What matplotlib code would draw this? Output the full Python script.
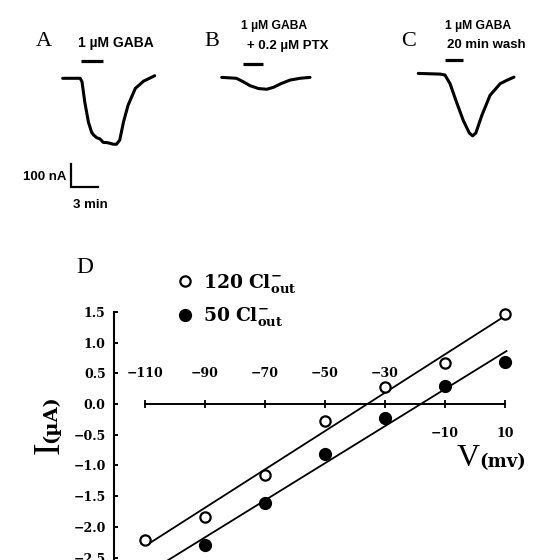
"""
GABA-evoked currents (A-C) and I-V relation at two external Cl- levels (D).
"""
import matplotlib
matplotlib.use("Agg")
import matplotlib.pyplot as plt
import numpy as np

# ---- data -------------------------------------------------------------
# current traces: time (min) from trace start, current (nA) from baseline
trace_a_t = [0.0, 1.9, 2.1, 2.4, 2.8, 3.15, 3.35, 3.7, 4.05, 4.4, 4.8, 5.15,
             5.5, 5.85, 6.2, 6.6, 7.1, 7.9, 8.8, 10.0]
trace_a_i = [0, 0, -15, -102, -189, -232, -243, -255, -260, -275, -276, -279,
             -283, -283, -265, -189, -116, -43, -12, 11]
trace_b_t = [0.0, 1.6, 2.35, 3.1, 4.0, 4.9, 5.6, 6.5, 7.4, 8.5, 9.6]
trace_b_i = [3, -1, -16, -33, -45, -48, -40, -23, -9, -1, 3]
trace_c_t = [0.0, 2.4, 2.9, 3.45, 4.15, 4.9, 5.55, 5.9, 6.25, 6.9, 7.8, 8.9,
             9.65, 10.4]
trace_c_i = [3, 0, -4, -41, -120, -200, -253, -265, -253, -178, -91, -41,
             -26, -13]
gaba_on = [1.95, 2.3, 2.9]     # min, drug application start per trace
gaba_off = [4.4, 4.5, 4.85]    # min, drug application end per trace
scale_min = 3
scale_na = 100

# I-V relation
v_120 = [-110, -90, -70, -50, -30, -10, 10]
i_120 = [-2.22, -1.84, -1.15, -0.28, 0.28, 0.67, 1.46]
v_50 = [-90, -70, -50, -30, -10, 10]
i_50 = [-2.29, -1.61, -0.81, -0.23, 0.29, 0.68]
v_ticks_above = [-110, -90, -70, -50, -30]
v_ticks_below = [-10, 10]
i_ticks = [1.5, 1.0, 0.5, 0.0, -0.5, -1.0, -1.5, -2.0, -2.5]

# ---- layout helpers (pixel positions of a 550x560 canvas) -------------
W, H = 550, 560
PX_PER_MIN = 9.2
PX_PER_NA = 0.233


def fx(x):
    return x / W


def fy(y):
    return 1 - y / H


SERIF = "Liberation Serif"
BSERIF = "DejaVu Serif"
SANS = "Liberation Sans"
plt.rcParams["mathtext.fontset"] = "dejavuserif"

fig = plt.figure(figsize=(W / 100, H / 100), dpi=100)

# ---- traces A-C -------------------------------------------------------
ax_tr = fig.add_axes([0, fy(230), 1, 230 / H])
base_y = 78.3
ax_tr.set_xlim(0, W / PX_PER_MIN)
ax_tr.set_ylim(-(230 - base_y) / PX_PER_NA, base_y / PX_PER_NA)
ax_tr.axis("off")

starts = [62.7 / PX_PER_MIN, 221.7 / PX_PER_MIN, 418.3 / PX_PER_MIN]
offsets = [0, 1, 18]
bar_levels = [74, 60, 60]
traces = [(trace_a_t, trace_a_i), (trace_b_t, trace_b_i), (trace_c_t, trace_c_i)]
for k, (t, i) in enumerate(traces):
    t0, off = starts[k], offsets[k]
    ax_tr.plot(np.array(t) + t0, np.array(i) + off, color="black", lw=2.2,
               solid_joinstyle="round", solid_capstyle="round")
    ax_tr.plot([t0 + gaba_on[k], t0 + gaba_off[k]],
               [off + bar_levels[k]] * 2, color="black", lw=2.3,
               solid_capstyle="butt")

# scale bar
sx, sy = 70.7 / PX_PER_MIN, -(187 - base_y) / PX_PER_NA
ax_tr.plot([sx, sx, sx + scale_min], [sy + scale_na, sy, sy], color="black",
           lw=1.6, solid_joinstyle="miter")
fig.text(fx(66.7), fy(176.7), f"{scale_na} nA", ha="right", va="center",
         family=SANS, weight="bold", size=9.5)
fig.text(fx(72.7), fy(205), f"{scale_min} min", ha="left", va="center",
         family=SANS, weight="bold", size=9.5)

# panel letters and conditions
for lab, x in zip("ABC", [44, 212, 409]):
    fig.text(fx(x), fy(42), lab, ha="center", va="center", family=SERIF,
             size=16)
fig.text(fx(78), fy(43.5), "1 \u00b5M GABA", ha="left", va="center",
         family=SANS, weight="bold", size=10)
fig.text(fx(241.4), fy(25.5), "1 \u00b5M GABA", ha="left", va="center",
         family=SANS, weight="bold", size=8.7)
fig.text(fx(247.4), fy(45.5), "+ 0.2 \u00b5M PTX", ha="left", va="center",
         family=SANS, weight="bold", size=9.5)
fig.text(fx(445), fy(25.5), "1 \u00b5M GABA", ha="left", va="center",
         family=SANS, weight="bold", size=8.7)
fig.text(fx(447.4), fy(45), "20 min wash", ha="left", va="center",
         family=SANS, weight="bold", size=9.5)

# ---- panel D: I-V relation --------------------------------------------
ax = fig.add_axes([fx(114), 0, fx(550) - fx(114), 270 / H])
ax.set_xlim(-120.33, 25)
ax.set_ylim(-2.54, 1.857)
ax.patch.set_alpha(0)

for v, i, filled, lab in [(v_120, i_120, False, r"$\mathbf{120\ Cl^{-}_{out}}$"),
                          (v_50, i_50, True, r"$\mathbf{50\ Cl^{-}_{out}}$")]:
    slope, icpt = np.polyfit(v, i, 1)
    vv = np.array([-108 if not filled else -110, 10.5])
    ax.plot(vv, slope * vv + icpt, color="black", lw=1.3, zorder=2)
    ax.plot(v, i, "o", ms=7.4 if not filled else 7.9,
            mfc="black" if filled else "white", mec="black", mew=1.6,
            zorder=3, label=lab, clip_on=False)

ax.spines["top"].set_visible(False)
ax.spines["right"].set_visible(False)
ax.spines["left"].set_linewidth(1.5)
ax.spines["left"].set_bounds(-2.54, 1.5)
ax.spines["bottom"].set_position(("data", 0))
ax.spines["bottom"].set_bounds(-110, 10)
ax.spines["bottom"].set_linewidth(1.4)

ax.set_yticks(i_ticks)
ax.set_yticklabels([f"{t:.1f}".replace("-", "\u2212") for t in i_ticks],
                   family=BSERIF, weight="bold", size=9)
ax.tick_params(axis="y", direction="in", length=3, width=1.4, pad=6)
ax.set_xticks(v_ticks_above + v_ticks_below)
ax.tick_params(axis="x", direction="inout", length=6, width=1.3,
               labelbottom=False)
for v in v_ticks_above:
    ax.annotate(f"{v}".replace("-", "\u2212"), (v, 0), xytext=(0, 22),
                textcoords="offset points", ha="center", va="center",
                family=BSERIF, weight="bold", size=9)
for v in v_ticks_below:
    ax.annotate(f"{v}".replace("-", "\u2212"), (v, 0), xytext=(0, -21),
                textcoords="offset points", ha="center", va="center",
                family=BSERIF, weight="bold", size=9)

# axis labels
fig.text(fx(457), fy(466), "V", ha="left", va="baseline", family=SERIF,
         size=23)
fig.text(fx(479), fy(467), "(mv)", ha="left", va="baseline", family=BSERIF,
         weight="bold", size=13)
fig.text(fx(58.5), fy(454), "I", rotation=90, rotation_mode="anchor",
         ha="left", va="baseline", family=SERIF, size=27)
fig.text(fx(56), fy(443), "(\u00b5A)", rotation=90, rotation_mode="anchor",
         ha="left", va="baseline", family=BSERIF, weight="bold", size=14)

fig.text(fx(85), fy(267.5), "D", ha="center", va="center", family=SERIF,
         size=17)

ax.legend(loc="upper left", bbox_to_anchor=(fx(176), fy(272)),
          bbox_transform=fig.transFigure, frameon=False, handlelength=1.0,
          handletextpad=0.45, labelspacing=0.55, borderpad=0, borderaxespad=0,
          prop={"size": 13.5})

fig.savefig("out.png", dpi=100)
